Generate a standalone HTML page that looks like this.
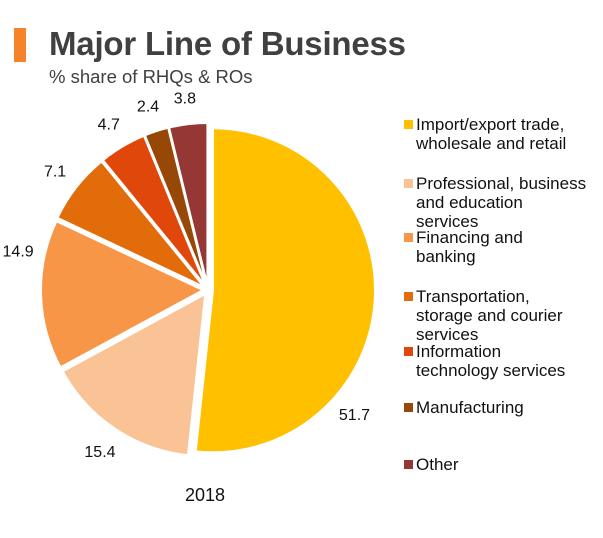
<!DOCTYPE html>
<html><head><meta charset="utf-8"><style>
body{margin:0;width:603px;height:538px;background:#fff;font-family:"Liberation Sans",Arial,sans-serif;overflow:hidden;position:relative}
.bar{position:absolute;left:14px;top:28px;width:12px;height:34px;background:#F6822A}
.title{position:absolute;left:49px;top:25px;font-size:33px;font-weight:bold;color:#404040;letter-spacing:-0.2px}
.sub{position:absolute;left:49px;top:66px;font-size:18.5px;color:#404040}
.leg{position:absolute;left:404px;font-size:17px;line-height:19px;color:#111}
.leg span.sw{position:absolute;left:0;top:5px;width:9px;height:9px}
.leg span.t{position:absolute;left:12px;top:0;width:190px;white-space:pre-line}
</style></head><body>
<div class="bar"></div>
<div class="title">Major Line of Business</div>
<div class="sub">% share of RHQs &amp; ROs</div>
<svg id="pie" width="603" height="538" style="position:absolute;left:0;top:0"></svg>
<div id="legend"></div>
<script>
const categories=["Import/export trade,\nwholesale and retail","Professional, business\nand education\nservices","Financing and\nbanking","Transportation,\nstorage and courier\nservices","Information\ntechnology services","Manufacturing","Other"];
const values=[51.7,15.4,14.9,7.1,4.7,2.4,3.8];
const valueLabels=["51.7","15.4","14.9","7.1","4.7","2.4","3.8"];
const colors=["#FFC000","#F9C396","#F79646","#E36C0A","#E0480B","#974706","#953735"];
const legendTops=[115,174,228,287,342,398,455];
const NS="http://www.w3.org/2000/svg";
const svg=document.getElementById('pie');
const cx=208,cy=290,R=162,explode=5;
const total=values.reduce((a,b)=>a+b,0);
function pt(a,r,ox,oy){return [ox+r*Math.sin(a),oy-r*Math.cos(a)];}
let start=0;
values.forEach((v,i)=>{
  const span=v/total*2*Math.PI, mid=start+span/2;
  const ox=cx+explode*Math.sin(mid), oy=cy-explode*Math.cos(mid);
  const p1=pt(start,R,ox,oy), p2=pt(start+span,R,ox,oy);
  const large=span>Math.PI?1:0;
  const path=document.createElementNS(NS,'path');
  path.setAttribute('d',`M${ox},${oy}L${p1[0]},${p1[1]}A${R},${R} 0 ${large} 1 ${p2[0]},${p2[1]}Z`);
  path.setAttribute('fill',colors[i]);
  path.setAttribute('stroke','#fff');
  path.setAttribute('stroke-width','2');
  
  
  svg.appendChild(path);
  const big=v/total>0.4;
  const la= big ? start+span*0.7 : (v/total>0.12 && v/total<0.15 ? start+span*0.75 : mid);
  const lp=pt(la,R+(big?30:32),cx,cy);
  const t=document.createElementNS(NS,'text');
  t.setAttribute('x',lp[0]);t.setAttribute('y',lp[1]+6);
  t.setAttribute('text-anchor','middle');
  t.setAttribute('font-size','16');
  t.setAttribute('fill','#111');
  t.setAttribute('font-family','Liberation Sans, Arial, sans-serif');
  t.textContent=valueLabels[i];
  
  
  svg.appendChild(t);
  start+=span;
});
const yr=document.createElementNS(NS,'text');
yr.setAttribute('x',205);yr.setAttribute('y',501);
yr.setAttribute('text-anchor','middle');yr.setAttribute('font-size','18');
yr.setAttribute('fill','#111');yr.setAttribute('font-family','Liberation Sans, Arial, sans-serif');
yr.textContent='2018';


svg.appendChild(yr);
const leg=document.getElementById('legend');
categories.forEach((c,i)=>{
  const d=document.createElement('div');
  d.className='leg';d.style.top=legendTops[i]+'px';
  
  
  const sw=document.createElement('span');sw.className='sw';sw.style.background=colors[i];
  const t=document.createElement('span');t.className='t';t.textContent=c;
  d.appendChild(sw);d.appendChild(t);
  leg.appendChild(d);
});
</script>
</body></html>
